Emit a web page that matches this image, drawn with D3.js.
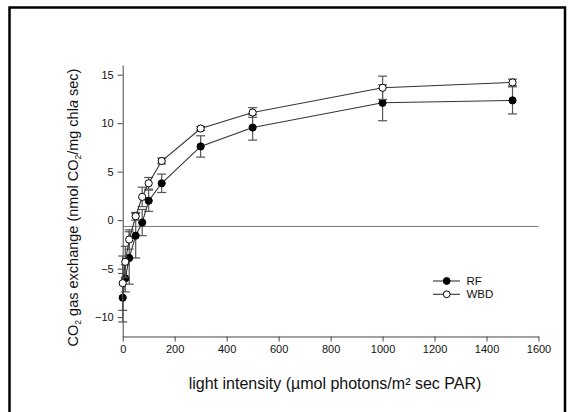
<!DOCTYPE html>
<html>
<head>
<meta charset="utf-8">
<script src="https://cdn.jsdelivr.net/npm/d3@7"></script>
<style>
body { margin: 0; background: #fff; }
svg text { font-family: Arial, "Liberation Sans", sans-serif; fill: #111; }
</style>
</head>
<body>
<svg id="chart" width="575" height="412"></svg>
<script>
// light levels (x) and the two series with their error bars
const light = [0, 10, 25, 50, 75, 100, 150, 300, 500, 1000, 1500];
const rf = [-8.0, -6.0, -3.9, -1.6, -0.25, 2.0, 3.8, 7.6, 9.55, 12.1, 12.35];
const rfErr = [2.5, 1.4, 2.7, 2.3, 1.35, 1.1, 0.95, 1.1, 1.3, 1.85, 1.4];
const wbd = [-6.5, -4.3, -2.0, 0.4, 2.4, 3.8, 6.1, 9.45, 11.1, 13.65, 14.2];
const wbdErr = [2.8, 1.6, 1.0, 0.4, 1.0, 0.6, 0.3, 0.2, 0.5, 1.2, 0.35];
const xTicks = [0, 200, 400, 600, 800, 1000, 1200, 1400, 1600];
const yTicks = [-10, -5, 0, 5, 10, 15];
const refLine = -0.65;

const svg = d3.select("#chart");

// outer frame
svg.append("path")
    .attr("d", "M9.5,412 V7.5 H565 V412")
    .attr("fill", "none")
    .attr("stroke", "#000")
    .attr("stroke-width", 2.5);

const x = d3.scaleLinear().domain([0, 1600]).range([122.7, 538.5]);
const y = d3.scaleLinear().domain([-12, 16]).range([336.5, 65]);

const xAxis = svg.append("g")
    .attr("transform", "translate(0,336.5)")
    .call(d3.axisBottom(x).tickValues(xTicks).tickFormat(d3.format("d"))
        .tickSize(5).tickPadding(4).tickSizeOuter(0));
const yAxis = svg.append("g")
    .attr("transform", "translate(122.7,0)")
    .call(d3.axisLeft(y).tickValues(yTicks).tickFormat(d3.format("d"))
        .tickSize(5).tickPadding(4).tickSizeOuter(0));

[xAxis, yAxis].forEach(g => {
    g.select(".domain").attr("stroke", "#444");
    g.selectAll(".tick line").attr("stroke", "#444");
    g.selectAll(".tick text").attr("font-size", 11).attr("fill", "#222")
        .style("font-family", "Arial, 'Liberation Sans', sans-serif");
});

// horizontal reference line
svg.append("line")
    .attr("x1", x(0)).attr("x2", x(1600))
    .attr("y1", y(refLine)).attr("y2", y(refLine))
    .attr("stroke", "#777").attr("stroke-width", 1);

const series = [
    {name: "RF", vals: rf, err: rfErr, fill: "#000"},
    {name: "WBD", vals: wbd, err: wbdErr, fill: "#fff"}
];

const line = d3.line().x(d => x(d[0])).y(d => y(d[1]));

series.forEach(s => {
    const pts = light.map((l, i) => [l, s.vals[i], s.err[i]]);
    const g = svg.append("g");
    // error bars
    pts.forEach(p => {
        const cx = x(p[0]);
        g.append("line").attr("x1", cx).attr("x2", cx)
            .attr("y1", y(p[1] - p[2])).attr("y2", y(p[1] + p[2]))
            .attr("stroke", "#555").attr("stroke-width", 1.2);
        [p[1] - p[2], p[1] + p[2]].forEach(v => {
            g.append("line").attr("x1", cx - 4.5).attr("x2", cx + 4.5)
                .attr("y1", y(v)).attr("y2", y(v))
                .attr("stroke", "#555").attr("stroke-width", 1.2);
        });
    });
    g.append("path").datum(pts).attr("d", line)
        .attr("fill", "none").attr("stroke", "#333").attr("stroke-width", 1.1);
    g.selectAll("circle").data(pts).join("circle")
        .attr("cx", d => x(d[0])).attr("cy", d => y(d[1])).attr("r", 3.6)
        .attr("fill", s.fill).attr("stroke", "#000").attr("stroke-width", 1);
});

// legend
series.forEach((s, i) => {
    const ly = 281 + i * 13.3;
    svg.append("line").attr("x1", 433).attr("x2", 460).attr("y1", ly).attr("y2", ly)
        .attr("stroke", "#333").attr("stroke-width", 1.1);
    svg.append("circle").attr("cx", 446.7).attr("cy", ly).attr("r", 3.4)
        .attr("fill", s.fill).attr("stroke", "#000");
    svg.append("text").attr("x", 466.5).attr("y", ly).attr("dy", "0.35em")
        .attr("font-size", 11.5).text(s.name);
});

// axis titles
svg.append("text")
    .attr("x", 335).attr("y", 383).attr("dy", "0.35em")
    .attr("text-anchor", "middle").attr("font-size", 16)
    .text("light intensity (µmol photons/m² sec PAR)");

const yt = svg.append("text")
    .attr("transform", "translate(73,207.5) rotate(-90)")
    .attr("dy", "0.35em")
    .attr("text-anchor", "middle").attr("font-size", 14.5);
yt.append("tspan").text("CO");
yt.append("tspan").attr("font-size", 8.5).attr("dy", 3).text("2");
yt.append("tspan").attr("dy", -3).text(" gas exchange (nmol CO");
yt.append("tspan").attr("font-size", 8.5).attr("dy", 3).text("2");
yt.append("tspan").attr("dy", -3).text("/mg chl");
yt.append("tspan").attr("font-style", "italic").text("a");
yt.append("tspan").text(" sec)");
</script>
</body>
</html>
